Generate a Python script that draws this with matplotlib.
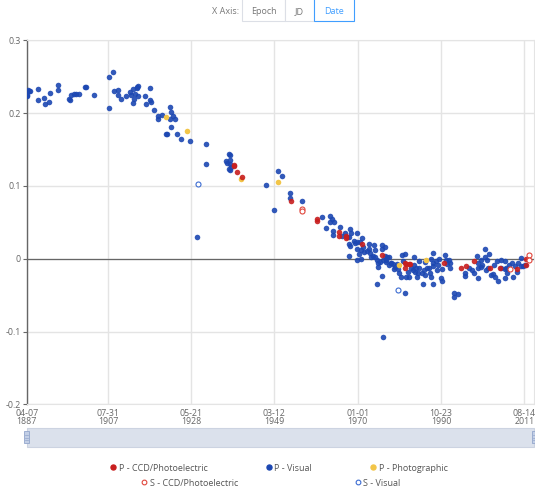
import numpy as np
import matplotlib.pyplot as plt
import matplotlib.dates as mdates
from matplotlib.lines import Line2D
from matplotlib.patches import Rectangle

plt.rcParams['font.family'] = ['Open Sans', 'DejaVu Sans']

# O-C residuals (days) against decimal year, one pair of lists per series
# P - Visual
vis_year = [1887.3, 1887.3, 1887.6, 1887.9, 1888.1, 1890.1, 1890.1, 1891.6, 1891.8, 1892.8,
            1893.1, 1895.1, 1895.1, 1897.9, 1898.1, 1898.3, 1899.1, 1899.6, 1900.4, 1901.9,
            1902.1, 1904.1, 1907.9, 1908.9, 1907.9, 1909.1, 1910.1, 1910.1, 1910.9, 1912.1,
            1913.1, 1913.3, 1913.9, 1914.3, 1914.1, 1913.9, 1914.9, 1915.1, 1914.9, 1915.1,
            1916.9, 1917.1, 1918.1, 1918.1, 1918.3, 1919.1, 1920.1, 1920.1, 1921.1, 1922.1,
            1922.4, 1923.1, 1923.3, 1923.3, 1923.1, 1923.9, 1924.3, 1924.9, 1925.9, 1928.1,
            1932.1, 1932.1, 1929.9, 1937.1, 1937.4, 1937.9, 1938.1, 1938.1, 1938.1, 1938.1,
            1937.8, 1938.4, 1947.1, 1949.1, 1950.1, 1951.1, 1953.1, 1953.1, 1956.1, 1961.1,
            1962.1, 1963.1, 1963.6, 1963.1, 1964.1, 1963.9, 1963.9, 1966.1, 1967.8, 1968.1,
            1967.9, 1968.1, 1967.9, 1969.1, 1969.4, 1969.9, 1969.9, 1969.9, 1969.9, 1970.6,
            1970.8, 1970.9, 1971.1, 1971.6, 1972.9, 1972.9, 1973.1, 1973.4, 1974.1, 1974.4,
            1974.4, 1974.9, 1975.1, 1974.9, 1976.1, 1976.1, 1976.3, 1976.1, 1976.8, 1976.9,
            1977.1, 1977.4, 1977.9, 1978.3, 1978.9, 1979.1, 1979.8, 1980.1, 1980.3, 1981.1,
            1981.3, 1981.9, 1980.9, 1981.9, 1982.1, 1982.9, 1983.3, 1983.8, 1984.1, 1984.1,
            1984.4, 1984.8, 1985.1, 1985.3, 1985.3, 1986.1, 1986.3, 1986.8, 1986.9, 1987.3,
            1987.9, 1988.1, 1988.4, 1988.4, 1988.9, 1988.9, 1988.9, 1989.6, 1989.8, 1990.4,
            1990.9, 1991.1, 1991.1, 1991.9, 1992.1, 1992.3, 1992.9, 1993.1, 1993.1, 1994.1,
            1994.1, 1995.1, 1996.9, 1996.9, 1997.9, 1999.1, 1999.8, 2000.1, 2000.1, 2000.1,
            2000.8, 2000.9, 2001.1, 2001.8, 2001.8, 2002.3, 2002.6, 2002.9, 2003.4, 2003.9,
            2004.3, 2004.8, 2005.1, 2005.8, 2005.9, 2006.8, 2006.8, 2006.8, 2007.4, 2007.8,
            2008.6, 2008.9, 2009.8, 2010.1, 2010.8, 2010.8, 2011.3, 2011.9, 1976.3, 1967.4,
            1968.4, 1975.1, 1978.4, 1977.1, 1965.6, 1966.8, 1970.3, 1971.4, 1972.4, 1973.8,
            1975.6, 1977.7, 1979.4, 1982.6, 1984.6, 1986.5, 1988.7, 1990.1, 1998.6, 2002.1,
            2004.1, 2007.1, 2009.4]
vis_oc = [0.223, 0.225, 0.232, 0.230, 0.231, 0.233, 0.218, 0.221, 0.213, 0.215,
          0.228, 0.239, 0.232, 0.220, 0.218, 0.225, 0.227, 0.226, 0.226, 0.236,
          0.236, 0.225, 0.250, 0.257, 0.207, 0.230, 0.232, 0.225, 0.220, 0.224,
          0.229, 0.225, 0.233, 0.226, 0.219, 0.214, 0.236, 0.238, 0.235, 0.224,
          0.223, 0.213, 0.235, 0.218, 0.216, 0.204, 0.196, 0.192, 0.198, 0.172,
          0.171, 0.209, 0.201, 0.181, 0.192, 0.196, 0.192, 0.171, 0.165, 0.162,
          0.158, 0.130, 0.030, 0.134, 0.132, 0.144, 0.142, 0.136, 0.130, 0.122,
          0.124, 0.126, 0.102, 0.067, 0.120, 0.114, 0.090, 0.084, 0.080, 0.057,
          0.042, 0.059, 0.055, 0.050, 0.050, 0.038, 0.033, 0.032, 0.030, 0.041,
          0.021, 0.017, 0.004, 0.025, 0.022, 0.036, 0.023, 0.013, -0.001, 0.023,
          0.012, 0.000, 0.029, 0.009, 0.021, 0.014, 0.008, 0.002, 0.019, 0.012,
          0.002, -0.001, -0.006, -0.034, 0.019, 0.014, -0.002, -0.024, 0.016, 0.004,
          -0.002, 0.003, 0.002, -0.006, -0.007, -0.014, -0.007, -0.014, -0.020, 0.005,
          -0.003, 0.007, -0.025, -0.047, -0.025, -0.025, -0.012, -0.015, 0.003, -0.008,
          -0.018, -0.025, -0.020, -0.013, -0.003, -0.020, -0.035, -0.022, -0.005, -0.012,
          -0.012, -0.020, 0.000, -0.025, 0.008, -0.006, -0.035, -0.003, -0.016, 0.000,
          -0.026, -0.030, -0.014, 0.005, -0.001, -0.007, -0.002, -0.006, -0.012, -0.047,
          -0.053, -0.049, -0.019, -0.024, -0.013, -0.019, 0.004, -0.006, -0.012, -0.026,
          -0.011, -0.002, -0.009, 0.013, 0.003, -0.002, -0.012, 0.007, -0.022, -0.021,
          -0.025, -0.003, -0.031, -0.012, -0.001, -0.003, -0.014, -0.027, -0.020, -0.008,
          -0.006, -0.025, -0.018, -0.006, 0.001, -0.010, -0.010, -0.008, -0.108, 0.030,
          0.035, -0.011, -0.006, -0.004, 0.044, 0.036, 0.006, 0.016, 0.011, 0.004,
          -0.004, -0.009, -0.011, -0.018, -0.013, -0.016, -0.010, -0.008, -0.016, -0.015,
          -0.008, -0.012, -0.010]

# P - CCD/Photoelectric
ccd_year = [1939.1, 1939.1, 1939.9, 1941.1, 1953.3, 1959.9, 1959.9, 1965.3, 1965.3, 1967.1,
            1967.1, 1971.1, 1976.1, 1981.9, 1981.9, 1982.9, 1982.1, 1983.1, 1991.6, 1995.8,
            1997.1, 1999.1, 2003.1, 2005.6, 2009.9, 2012.1, 2012.1]
ccd_oc = [0.127, 0.129, 0.119, 0.113, 0.080, 0.055, 0.052, 0.037, 0.031, 0.032,
          0.028, 0.020, 0.005, -0.006, -0.012, -0.007, -0.007, -0.007, -0.006, -0.013,
          -0.010, -0.003, -0.012, -0.012, -0.014, 0.000, -0.008]

# P - Photographic
photo_year = [1922.1, 1927.4, 1940.9, 1950.1, 1980.3, 1987.1]
photo_oc = [0.195, 0.175, 0.110, 0.105, -0.008, -0.002]

# S - CCD/Photoelectric
s_ccd_year = [1956.1, 1956.1, 2008.1, 2012.9, 2012.9]
s_ccd_oc = [0.069, 0.065, -0.014, 0.005, -0.001]

# S - Visual
s_vis_year = [1930.1, 1980.1]
s_vis_oc = [0.103, -0.043]

tick_dates = ['1887-04-07', '1907-07-31', '1928-05-21', '1949-03-12',
              '1970-01-01', '1990-10-23', '2011-08-14']
tick_labels = ['04-07\n1887', '07-31\n1907', '05-21\n1928', '03-12\n1949',
               '01-01\n1970', '10-23\n1990', '08-14\n2011']
y_ticks = [0.3, 0.2, 0.1, 0.0, -0.1, -0.2]
y_labels = ['0.3', '0.2', '0.1', '0', '-0.1', '-0.2']

RED = '#c81e1e'
BLUE = '#1c47b2'
YELLOW = '#f2c548'
RED_OPEN = '#e0463c'
BLUE_OPEN = '#3c6cd2'
GRID = '#e4e4e4'
TXT = '#666666'


def to_num(years):
    base = mdates.date2num(np.datetime64('1970-01-01'))
    return base + (np.asarray(years) - 1970.0) * 365.2425


W, H = 535, 490
fig = plt.figure(figsize=(W / 100, H / 100), dpi=100)
left, right, top, bottom = 26.6, 534, 40.4, 404.4
ax = fig.add_axes([left / W, 1 - bottom / H, (right - left) / W, (bottom - top) / H])

xt = mdates.date2num(np.array(tick_dates, dtype='datetime64[D]'))
ax.set_xlim(xt[0], mdates.date2num(np.datetime64('2014-01-20')))
ax.set_ylim(-0.2, 0.3)

ax.set_xticks(xt)
ax.set_xticklabels(tick_labels, fontsize=6.3, color=TXT, linespacing=0.85)
ax.set_yticks(y_ticks)
ax.set_yticklabels(y_labels, fontsize=6.3, color=TXT)
ax.tick_params(axis='x', length=0, pad=3)
ax.tick_params(axis='y', length=3, width=0.8, color='#666', pad=1)

ax.grid(True, color=GRID, lw=1)
ax.set_axisbelow(True)
for side in ['top', 'right', 'bottom']:
    ax.spines[side].set_color(GRID)
ax.spines['left'].set_color('#666')
ax.spines['left'].set_linewidth(1)
ax.axhline(0, color='#666', lw=0.9, zorder=1)

ax.scatter(to_num(vis_year), vis_oc, s=16, color=BLUE, alpha=0.9, lw=0, zorder=3)
ax.scatter(to_num(photo_year), photo_oc, s=16, color=YELLOW, lw=0, zorder=4)
ax.scatter(to_num(ccd_year), ccd_oc, s=16, color=RED, alpha=0.9, lw=0, zorder=4)
ax.scatter(to_num(s_ccd_year), s_ccd_oc, s=13, facecolor='white', edgecolor=RED_OPEN,
           lw=0.8, zorder=5)
ax.scatter(to_num(s_vis_year), s_vis_oc, s=13, facecolor='white', edgecolor=BLUE_OPEN,
           lw=0.8, zorder=5)

# zoom slider under the axis
sx0, sx1, sy0, sy1 = left, right, 427.5, 447
fig.patches.append(Rectangle((sx0 / W, 1 - sy1 / H), (sx1 - sx0) / W, (sy1 - sy0) / H,
                             transform=fig.transFigure, facecolor='#dbe1ec',
                             edgecolor='#ccd3e1', lw=0.8))
for hx in [sx0, sx1]:
    fig.patches.append(Rectangle(((hx - 2.5) / W, 1 - 443 / H), 5 / W, 12 / H,
                                 transform=fig.transFigure, facecolor='#c3cfe6',
                                 edgecolor='#93a6cc', lw=0.6))
    for hy in [435, 437.5, 440]:
        fig.add_artist(Line2D([(hx - 1.2) / W, (hx + 1.2) / W], [1 - hy / H, 1 - hy / H],
                              transform=fig.transFigure, color='#93a6cc', lw=0.5))

# x axis mode switch at the top
fig.text(239 / W, 1 - 12 / H, 'X Axis:', ha='right', va='center', fontsize=6.5, color='#777')
btns = [('Epoch', 242, 285), ('JD', 285, 314), ('Date', 314, 354)]
for name, bx0, bx1 in btns:
    active = name == 'Date'
    fig.patches.append(Rectangle((bx0 / W, 1 - 21.5 / H), (bx1 - bx0) / W, 26 / H,
                                 transform=fig.transFigure, facecolor='white',
                                 edgecolor='#409eff' if active else '#dcdfe6', lw=0.8,
                                 zorder=2 if active else 1))
    fig.text((bx0 + bx1) / 2 / W, 1 - 12 / H, name, ha='center', va='center', fontsize=6.5,
             color='#409eff' if active else '#777', zorder=3)

row1 = [Line2D([], [], ls='', marker='o', ms=3.6, mfc=RED, mec=RED, label='P - CCD/Photoelectric'),
        Line2D([], [], ls='', marker='o', ms=3.6, mfc=BLUE, mec=BLUE, label='P - Visual'),
        Line2D([], [], ls='', marker='o', ms=3.6, mfc=YELLOW, mec=YELLOW, label='P - Photographic')]
row2 = [Line2D([], [], ls='', marker='o', ms=3.4, mfc='white', mec=RED_OPEN, mew=0.8,
               label='S - CCD/Photoelectric'),
        Line2D([], [], ls='', marker='o', ms=3.4, mfc='white', mec=BLUE_OPEN, mew=0.8,
               label='S - Visual')]
fig.legend(handles=row1, loc='center', bbox_to_anchor=(279 / W, 1 - 468 / H), ncol=3,
           frameon=False, fontsize=6.5, labelcolor='#555', handlelength=0.6,
           handletextpad=0.3, columnspacing=6.5, borderpad=0)
fig.legend(handles=row2, loc='center', bbox_to_anchor=(271 / W, 1 - 483 / H), ncol=2,
           frameon=False, fontsize=6.5, labelcolor='#555', handlelength=0.6,
           handletextpad=0.3, columnspacing=13, borderpad=0)

fig.savefig('out.png', dpi=100)
